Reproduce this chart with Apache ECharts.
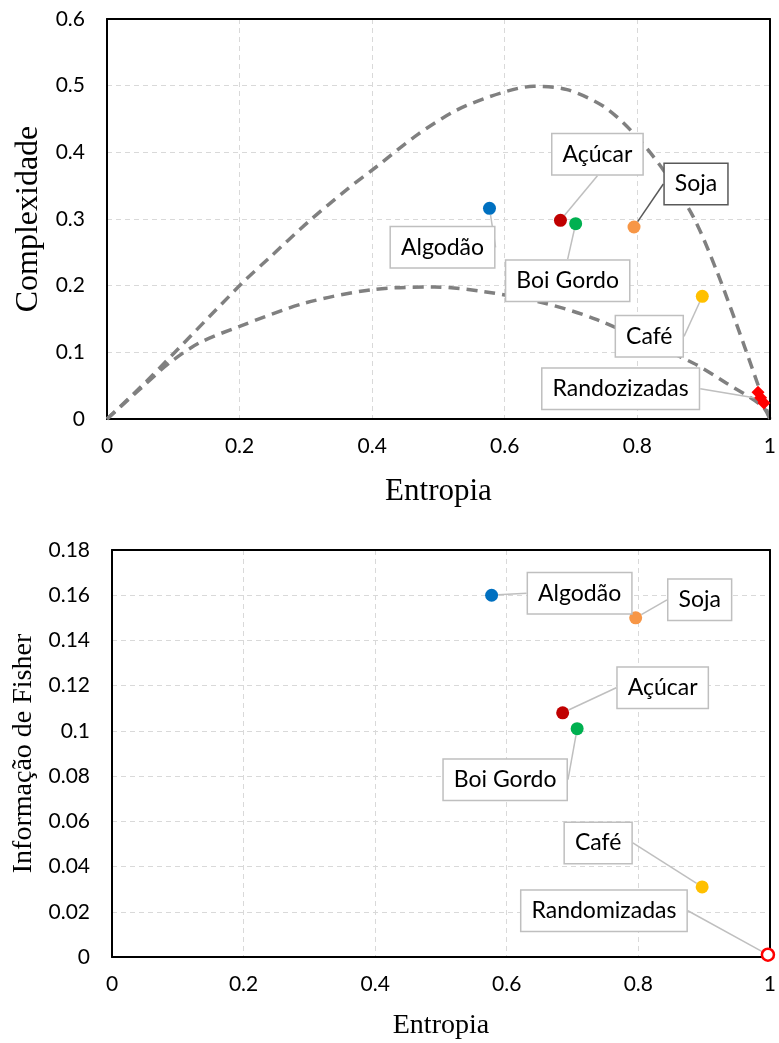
<!DOCTYPE html>
<html><head><meta charset="utf-8">
<script src="https://cdn.jsdelivr.net/npm/echarts@6/dist/echarts.min.js"></script>
<style>html,body{margin:0;padding:0;background:#fff}#c{width:779px;height:1043px}</style>
</head><body><div id="c"></div>
<script>
// ---------- data ----------
const categories = ['Algodão', 'Açúcar', 'Boi Gordo', 'Soja', 'Café'];
const entropyTop = [0.577, 0.684, 0.707, 0.795, 0.898];
const complexityTop = [0.316, 0.298, 0.293, 0.288, 0.184];
const randomNameTop = 'Randozizadas';
const randomEntropyTop = [0.982, 0.986, 0.991];
const randomComplexityTop = [0.040, 0.032, 0.024];
const maxCurveH = [0, 0.059, 0.204, 0.244, 0.304, 0.364, 0.406, 0.469, 0.529, 0.594, 0.644, 0.694, 0.749, 0.794, 0.839, 0.884, 0.919, 0.949, 0.974, 1];
const maxCurveC = [0, 0.056, 0.204, 0.241, 0.296, 0.346, 0.378, 0.427, 0.464, 0.489, 0.499, 0.494, 0.469, 0.429, 0.374, 0.304, 0.224, 0.144, 0.074, 0];
const minCurveH = [0, 0.05, 0.094, 0.139, 0.2, 0.299, 0.4, 0.494, 0.569, 0.659, 0.739, 0.884, 0.934, 0.989, 1];
const minCurveC = [0, 0.045, 0.084, 0.114, 0.139, 0.174, 0.194, 0.198, 0.191, 0.174, 0.149, 0.084, 0.054, 0.019, 0];
const entropyBottom = [0.577, 0.685, 0.707, 0.796, 0.897];
const fisherBottom = [0.160, 0.108, 0.101, 0.150, 0.031];
const randomNameBottom = 'Randomizadas';
const randomEntropyBottom = [0.997];
const randomFisherBottom = [0.001];
const xTicks = [0, 0.2, 0.4, 0.6, 0.8, 1];
const yTicksTop = [0, 0.1, 0.2, 0.3, 0.4, 0.5, 0.6];
const yTicksBottom = [0, 0.02, 0.04, 0.06, 0.08, 0.1, 0.12, 0.14, 0.16, 0.18];

// ---------- style ----------
const colors = ['#0070C0', '#C00000', '#00B050', '#F79646', '#FFC000'];
// label box offsets (px) from marker, per category order
const topOffsets = [[-47, 39], [37, -66], [-8, 57], [62, -43], [-53, 40]];
const bottomOffsets = [[88, -2], [100, -25], [-72, 51], [64, -18], [-104, -44]];
const tickFont = 'Lato';
const labelBox = {
  show: true, position: 'inside', color: '#000', fontFamily: 'Lato', fontSize: 23,
  backgroundColor: '#fff', borderColor: '#bfbfbf', borderWidth: 1.5, padding: [6, 10], lineHeight: 28
};
const fmt = v => String(parseFloat(v.toFixed(2)));
const gridLine = { show: true, lineStyle: { color: '#d9d9d9', type: [5, 4], width: 1 } };

function range(ticks) {
  return { min: ticks[0], max: ticks[ticks.length - 1], interval: ticks[1] - ticks[0] };
}
function xAxis(gridIndex, nameSize, gap, ticks) {
  return Object.assign({
    gridIndex, type: 'value',
    name: 'Entropia', nameLocation: 'middle', nameGap: gap,
    nameTextStyle: { fontFamily: 'Liberation Serif', fontSize: nameSize, color: '#000' },
    axisLine: { show: true, onZero: false, lineStyle: { color: '#000', width: 2 } },
    axisTick: { show: false },
    axisLabel: { formatter: fmt, fontFamily: tickFont, fontSize: 21, color: '#000', margin: 17 },
    splitLine: gridLine, z: 1
  }, range(ticks));
}
function yAxis(gridIndex, name, nameSize, gap, ticks) {
  return Object.assign({
    gridIndex, type: 'value',
    name, nameLocation: 'middle', nameGap: gap,
    nameTextStyle: { fontFamily: 'Liberation Serif', fontSize: nameSize, color: '#000' },
    axisLine: { show: true, onZero: false, lineStyle: { color: '#000', width: 2 } },
    axisTick: { show: false },
    axisLabel: { formatter: fmt, fontFamily: tickFont, fontSize: 21, color: '#000', margin: 22 },
    splitLine: gridLine, z: 1
  }, range(ticks));
}
function frameAxis(gridIndex, position, ticks) {
  return Object.assign({
    gridIndex, type: 'value', position,
    axisLine: { show: true, onZero: false, lineStyle: { color: '#000', width: 2 } },
    axisTick: { show: false }, axisLabel: { show: false }, splitLine: { show: false }, z: 3
  }, range(ticks));
}

function curve(h, c) {
  return {
    type: 'line', xAxisIndex: 0, yAxisIndex: 0, data: h.map((x, i) => [x, c[i]]),
    smooth: 0.3, symbol: 'none', silent: true, z: 2,
    lineStyle: { color: '#808080', width: 3.5, type: [11, 7] }
  };
}

function catScatter(axisIdx, xs, ys, offsets, darkIndex) {
  return {
    type: 'scatter', xAxisIndex: axisIdx, yAxisIndex: axisIdx, z: 5, symbolSize: 13,
    data: categories.map((n, i) => ({
      name: n, value: [xs[i], ys[i]],
      itemStyle: { color: colors[i], opacity: 1 },
      label: Object.assign({}, labelBox, { formatter: n }, i === darkIndex ? { borderColor: '#595959' } : {}),
      labelLine: { show: true, lineStyle: { color: i === darkIndex ? '#595959' : '#bfbfbf', width: 1.5 } }
    })),
    labelLayout: p => ({ dx: offsets[p.dataIndex][0], dy: offsets[p.dataIndex][1] }),
    labelLine: { show: true, lineStyle: { color: '#bfbfbf', width: 1.5 } }
  };
}

const chart = echarts.init(document.getElementById('c'), null, { renderer: 'canvas' });
chart.setOption({
  animation: false,
  backgroundColor: '#fff',
  grid: [
    { left: 107, top: 19, width: 667, height: 400 },
    { left: 112, top: 550, width: 666, height: 407 }
  ],
  xAxis: [xAxis(0, 31, 57, xTicks), xAxis(1, 28, 55, xTicks), frameAxis(0, 'top', xTicks), frameAxis(1, 'top', xTicks)],
  yAxis: [yAxis(0, 'Complexidade', 32, 58, yTicksTop), yAxis(1, 'Informação de Fisher', 28, 64, yTicksBottom),
          frameAxis(0, 'right', yTicksTop), frameAxis(1, 'right', yTicksBottom)],
  series: [
    curve(maxCurveH, maxCurveC),
    curve(minCurveH, minCurveC),
    catScatter(0, entropyTop, complexityTop, topOffsets, 3),
    {
      type: 'scatter', xAxisIndex: 0, yAxisIndex: 0, z: 4, symbol: 'diamond', symbolSize: 13,
      itemStyle: { color: '#FF0000', opacity: 1 }, clip: false,
      data: randomEntropyTop.map((x, i) => ({
        value: [x, randomComplexityTop[i]],
        label: Object.assign({}, labelBox, { show: i === 1, formatter: randomNameTop }),
        labelLine: { show: i === 1, lineStyle: { color: '#bfbfbf', width: 1.5 } }
      })),
      labelLayout: p => ({ dx: -140, dy: -9 })
    },
    catScatter(1, entropyBottom, fisherBottom, bottomOffsets, -1),
    {
      type: 'scatter', xAxisIndex: 1, yAxisIndex: 1, z: 4, symbol: 'circle', symbolSize: 12, clip: false,
      itemStyle: { color: '#fff', borderColor: '#FF0000', borderWidth: 2.5, opacity: 1 },
      data: randomEntropyBottom.map((x, i) => ({
        value: [x, randomFisherBottom[i]],
        label: Object.assign({}, labelBox, { formatter: randomNameBottom }),
        labelLine: { show: true, lineStyle: { color: '#bfbfbf', width: 1.5 } }
      })),
      labelLayout: p => ({ dx: -164, dy: -44 })
    }
  ]
});
</script>
</body></html>
